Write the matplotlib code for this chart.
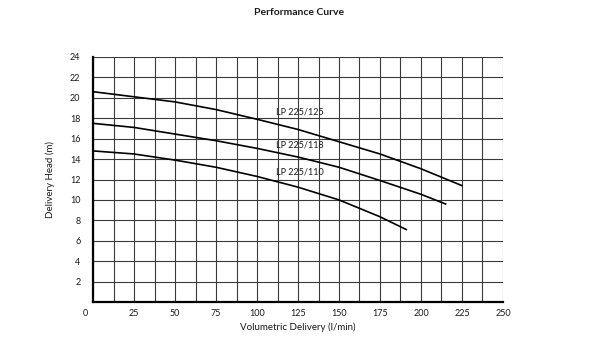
import matplotlib
matplotlib.use("Agg")
import matplotlib.pyplot as plt
import matplotlib.transforms as mtransforms

plt.rcParams['font.family'] = ['Lato', 'DejaVu Sans']

# Data
flow_125 = [0, 25, 50, 75, 100, 125, 150, 175, 200, 225]
head_125 = [20.6, 20.1, 19.6, 18.85, 17.9, 16.9, 15.7, 14.5, 13.05, 11.4]
flow_118 = [0, 25, 50, 75, 100, 125, 150, 175, 200, 215]
head_118 = [17.5, 17.1, 16.45, 15.8, 15.05, 14.2, 13.2, 11.9, 10.55, 9.6]
flow_110 = [0, 25, 50, 75, 100, 125, 150, 175, 191]
head_110 = [14.8, 14.5, 13.9, 13.2, 12.3, 11.25, 10.0, 8.35, 7.1]
series_names = ["LP 225/125", "LP 225/118", "LP 225/110"]
label_pos_x = [111.5, 111.5, 111.5]
label_pos_y = [18.6, 15.4, 12.7]
x_ticks = [0, 25, 50, 75, 100, 125, 150, 175, 200, 225, 250]
y_ticks = [2, 4, 6, 8, 10, 12, 14, 16, 18, 20, 22, 24]

fig = plt.figure(figsize=(5.99, 3.39), dpi=100)
ax = fig.add_axes([0.1553, 0.1091, 0.6844, 0.7228])

ax.set_xlim(0, 250)
ax.set_ylim(0, 24)

# grid
ax.set_xticks([i * 12.5 for i in range(21)], minor=True)
ax.set_yticks(y_ticks)
ax.set_xticks(x_ticks)
ax.grid(True, which='both', axis='x', color='#3a3a3a', linewidth=0.8)
ax.grid(True, which='major', axis='y', color='#3a3a3a', linewidth=0.8)
ax.set_axisbelow(True)

for fl, hd in [(flow_125, head_125), (flow_118, head_118), (flow_110, head_110)]:
    ax.plot(fl, hd, color='black', linewidth=1.2, zorder=3)

for name, lx, ly in zip(series_names, label_pos_x, label_pos_y):
    ax.text(lx, ly, name, fontsize=6.5, color='#1a1a1a', va='center', ha='left', zorder=4)

ax.tick_params(axis='both', which='both', length=0, labelsize=6.5, colors='#1a1a1a')
ax.tick_params(axis='y', pad=9)
ax.tick_params(axis='x', pad=5)

# shift the "0" label slightly left as in the reference
labels = ax.get_xticklabels()
offset = mtransforms.ScaledTranslation(-8 / 100, 0, fig.dpi_scale_trans)
labels[0].set_transform(labels[0].get_transform() + offset)

for side in ['top', 'right']:
    ax.spines[side].set_visible(False)
for side in ['left', 'bottom']:
    ax.spines[side].set_linewidth(1.6)
    ax.spines[side].set_color('black')

ax.set_xlabel("Volumetric Delivery (l/min)", fontsize=7, color='#1a1a1a', labelpad=3)
ax.set_ylabel("Delivery Head (m)", fontsize=7, color='#1a1a1a', labelpad=11)
fig.text(0.5, 0.963, "Performance Curve", fontsize=7.5, fontweight='bold',
         ha='center', va='center', color='#1a1a1a')

fig.savefig("out.png", dpi=100)
